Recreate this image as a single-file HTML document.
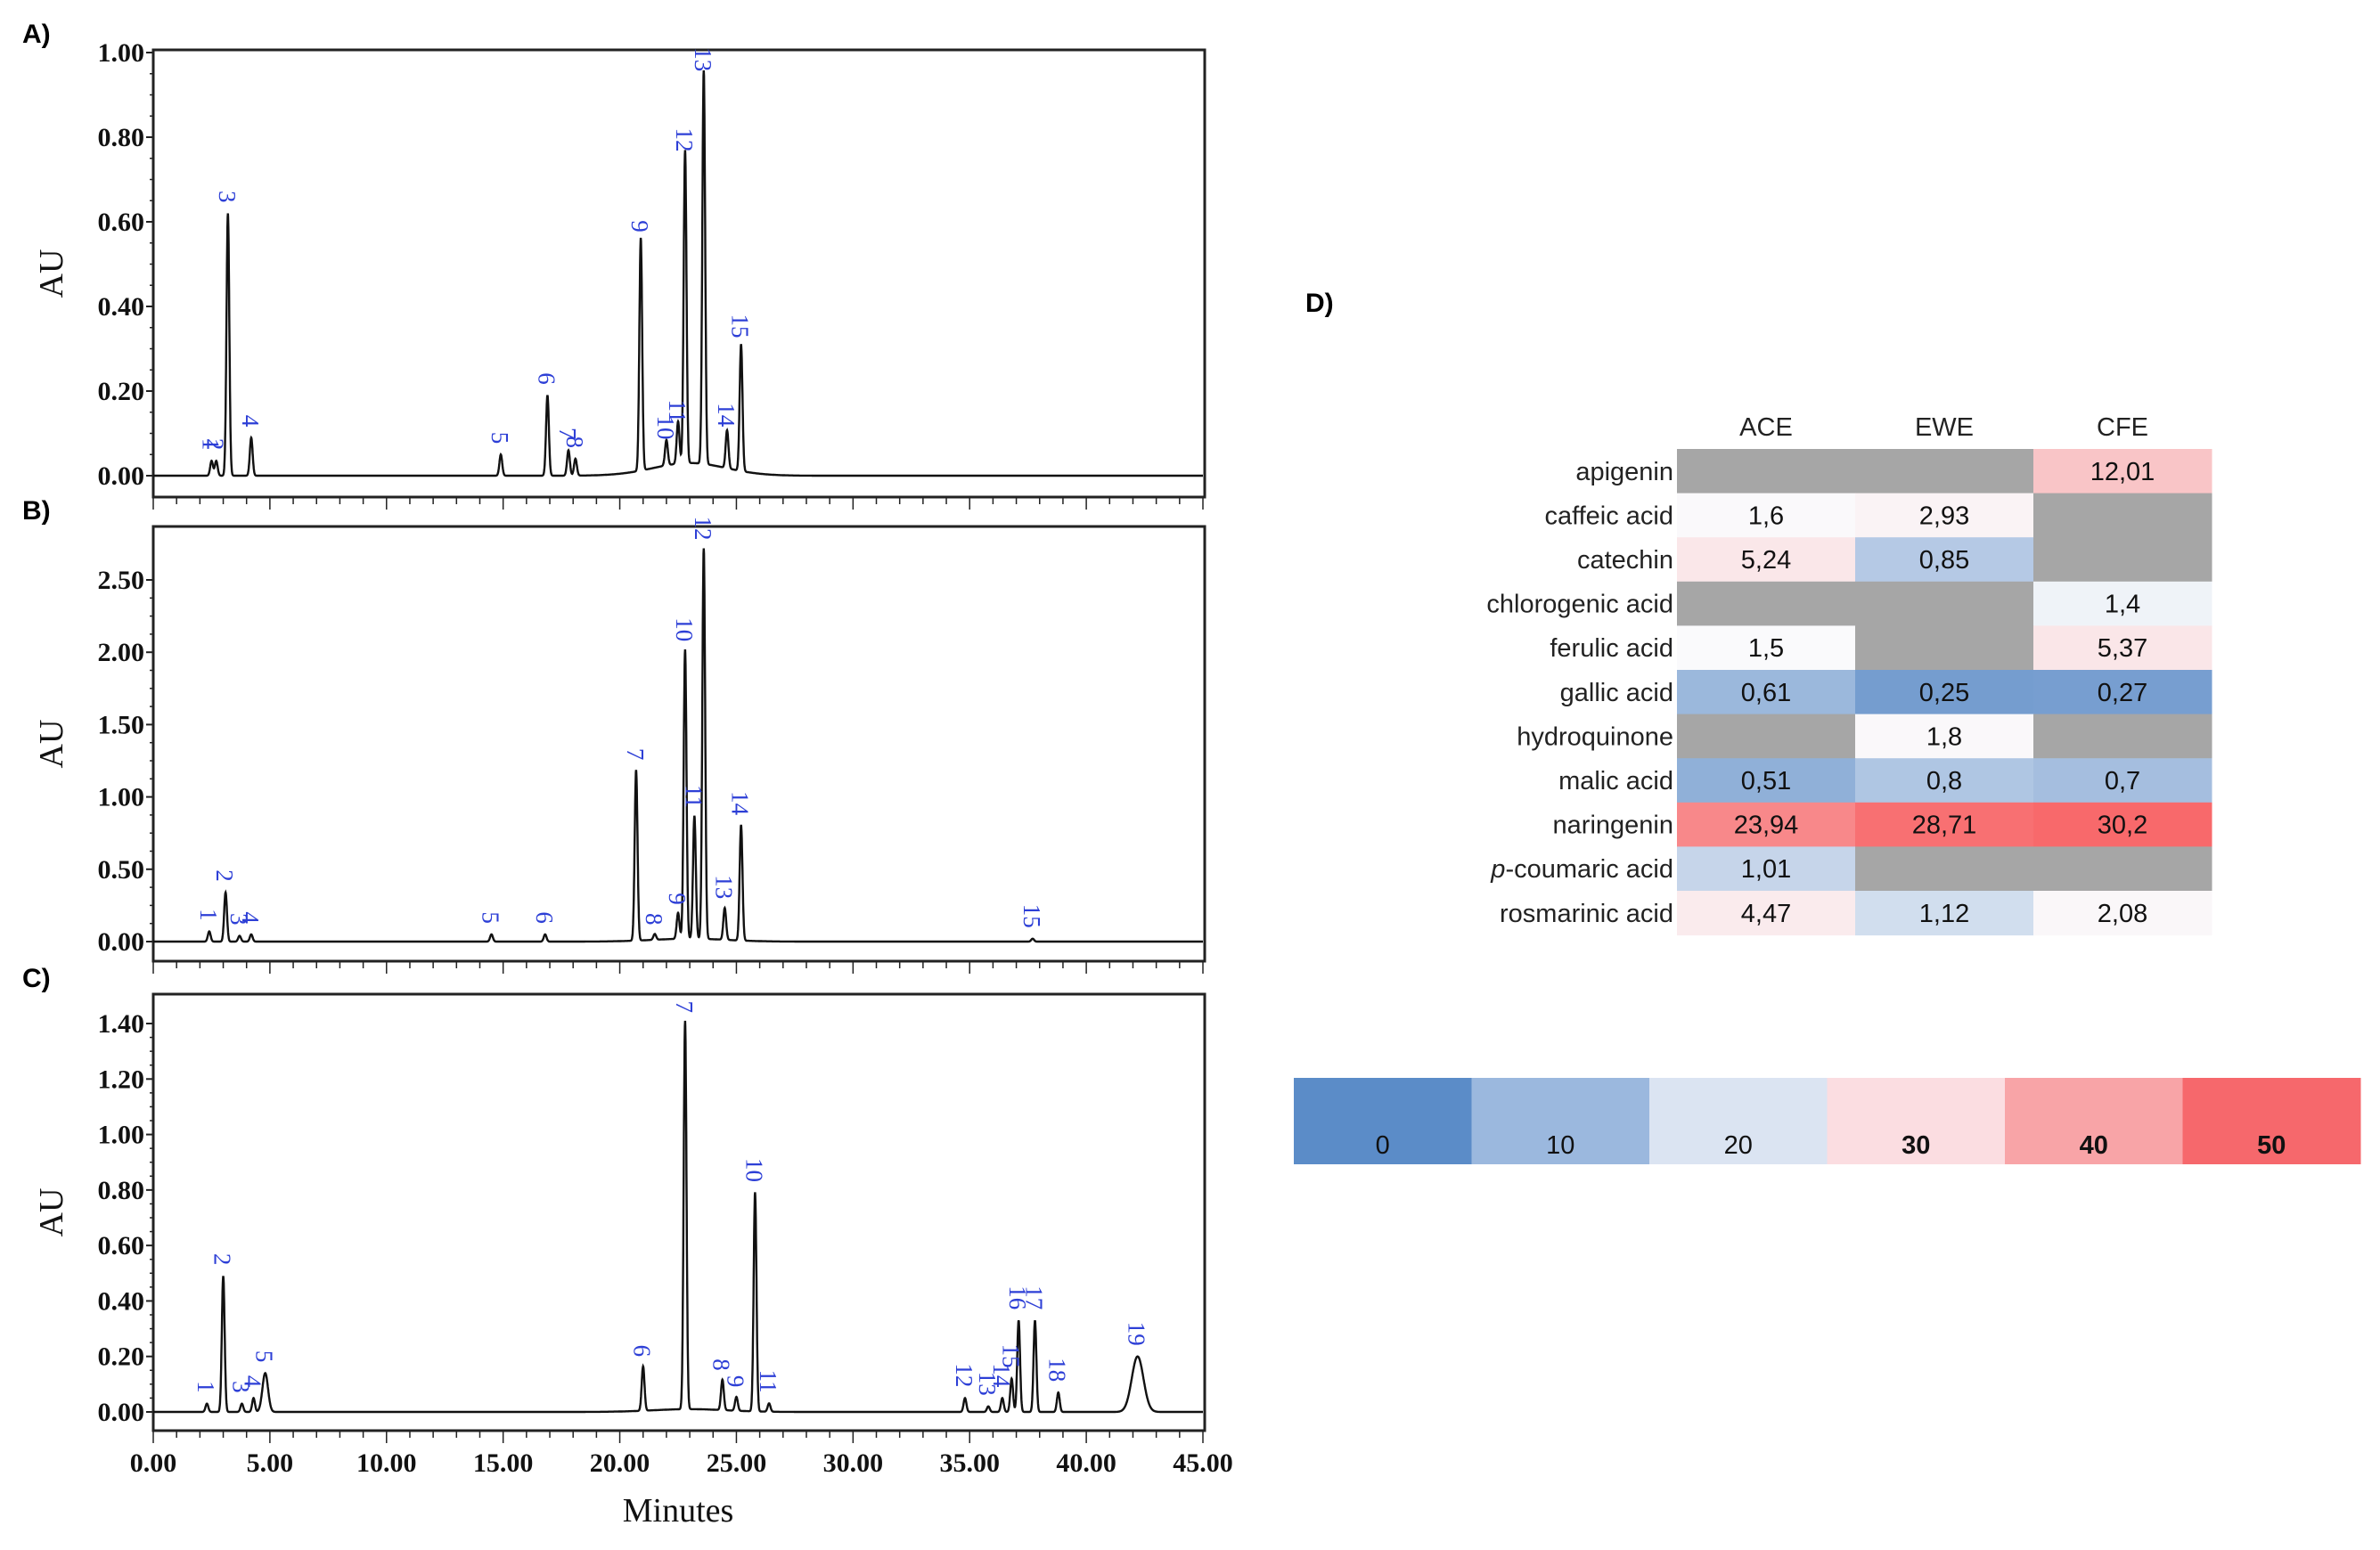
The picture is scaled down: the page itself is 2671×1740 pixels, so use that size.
<!DOCTYPE html>
<html><head><meta charset="utf-8">
<style>
body{margin:0;background:#fff;width:2671px;height:1740px;overflow:hidden;position:relative;font-family:"Liberation Sans",sans-serif}
svg{position:absolute;left:0;top:0}
</style></head>
<body>
<svg id="chart" width="2671" height="1740" xmlns="http://www.w3.org/2000/svg"></svg>
<script>
// ---- data ----
const peaksA_t=[2.5,2.7,3.2,4.2,14.9,16.9,17.8,18.1,20.9,22.0,22.5,22.8,23.6,24.6,25.2];
const peaksA_h=[0.035,0.035,0.62,0.09,0.05,0.19,0.06,0.04,0.55,0.06,0.1,0.74,0.93,0.09,0.3];
const peaksB_t=[2.4,3.1,3.7,4.2,14.5,16.8,20.7,21.5,22.5,22.8,23.2,23.6,24.5,25.2,37.7];
const peaksB_h=[0.07,0.34,0.04,0.05,0.05,0.05,1.18,0.04,0.18,2.0,0.85,2.7,0.22,0.8,0.02];
const peaksC_t=[2.3,3.0,3.8,4.3,4.8,21.0,22.8,24.4,25.0,25.8,26.4,34.8,35.8,36.4,36.8,37.1,37.8,38.8,42.2];
const peaksC_h=[0.03,0.49,0.03,0.05,0.14,0.16,1.4,0.11,0.05,0.79,0.03,0.05,0.02,0.05,0.12,0.33,0.33,0.07,0.2];
const yTicksA=["0.00","0.20","0.40","0.60","0.80","1.00"];
const yTicksB=["0.00","0.50","1.00","1.50","2.00","2.50"];
const yTicksC=["0.00","0.20","0.40","0.60","0.80","1.00","1.20","1.40"];
const xTicks=["0.00","5.00","10.00","15.00","20.00","25.00","30.00","35.00","40.00","45.00"];
const compounds=["apigenin","caffeic acid","catechin","chlorogenic acid","ferulic acid","gallic acid","hydroquinone","malic acid","naringenin","p-coumaric acid","rosmarinic acid"];
const extracts=["ACE","EWE","CFE"];
const valsACE=[null,"1,6","5,24",null,"1,5","0,61",null,"0,51","23,94","1,01","4,47"];
const valsEWE=[null,"2,93","0,85",null,null,"0,25","1,8","0,8","28,71",null,"1,12"];
const valsCFE=["12,01",null,null,"1,4","5,37","0,27",null,"0,7","30,2",null,"2,08"];
const scaleLabels=["0","10","20","30","40","50"];

const NS="http://www.w3.org/2000/svg";
const svg=document.getElementById('chart');
function mk(tag,attrs,parent){const e=document.createElementNS(NS,tag);for(const k in attrs)e.setAttribute(k,attrs[k]);(parent||svg).appendChild(e);return e;}

const X0=172,X45=1350,FR=1352;
function xs(t){return X0+(X45-X0)*t/45;}

function panel(name,letter,top,bottom,y0,yTop,topVal,ticks,step,pt,ph,sig,hump,showX){
  const g=mk('g',{});
  
  
  const ys=v=>y0-(y0-yTop)*v/topVal;
  const lt=mk('text',{x:25,y:top-8,'font-size':30,'font-weight':'bold','font-family':'Liberation Sans, sans-serif'},g);
  lt.textContent=letter+')';
  
  
  const fr=mk('rect',{x:X0,y:top,width:FR-X0,height:bottom-top,fill:'none',stroke:'#222','stroke-width':3},g);
  
  
  ticks.forEach((lab,i)=>{
    const v=i*step,y=ys(v);
    mk('line',{x1:X0-8,x2:X0,y1:y,y2:y,stroke:'#222','stroke-width':2},g);
    const t=mk('text',{x:X0-10,y:y+10,'text-anchor':'end','font-size':30,'font-weight':'bold','font-family':'Liberation Serif, serif',fill:'#111'},g);
    t.textContent=lab;
    
    
    for(let m=1;m<4&&i<ticks.length-1;m++){const ym=ys(v+step*m/4);mk('line',{x1:X0-4,x2:X0,y1:ym,y2:ym,stroke:'#222','stroke-width':1.5},g);}
  });
  const au=mk('text',{x:0,y:0,transform:`translate(70,${(top+bottom)/2}) rotate(-90)`,'text-anchor':'middle','font-size':38,'font-family':'Liberation Serif, serif',fill:'#111'},g);
  au.textContent='AU';
  
  
  for(let t=0;t<=45;t++){const x=xs(t);mk('line',{x1:x,x2:x,y1:bottom,y2:bottom+(t%5==0?14:8),stroke:'#222','stroke-width':1.5},g);}
  if(showX){xTicks.forEach((lab,i)=>{const t=mk('text',{x:xs(i*5),y:bottom+46,'text-anchor':'middle','font-size':30,'font-weight':'bold','font-family':'Liberation Serif, serif',fill:'#111'},g);t.textContent=lab;});
    const mn=mk('text',{x:xs(22.5),y:1708,'text-anchor':'middle','font-size':38,'font-family':'Liberation Serif, serif',fill:'#111'},g);mn.textContent='Minutes';}
  let d='';
  for(let t=0;t<=45;t+=0.01){
    let v=0;
    if(hump) v+=hump*Math.exp(-Math.pow((t-23)/2.2,2));
    for(let i=0;i<pt.length;i++){const s=(pt[i]>40?0.25:(i==4&&letter=='C'?0.12:sig));v+=ph[i]*Math.exp(-Math.pow(t-pt[i],2)/(2*s*s));}
    d+=(d?'L':'M')+xs(t).toFixed(1)+' '+ys(v).toFixed(1);
  }
  const p=mk('path',{d:d,fill:'none',stroke:'#111','stroke-width':2.4},g);
  
  
  pt.forEach((t,i)=>{
    const x=xs(t),y=ys(ph[i])-12;
    const l=mk('text',{x:0,y:0,transform:`translate(${x-10},${y}) rotate(90)`,'text-anchor':'end','font-size':27,'font-family':'Liberation Serif, serif',fill:'#2d3fd6'},g);
    l.textContent=String(i+1);
    
    
  });
}
panel('panel-a-chromatogram','A',56,558,534,59,1.0,yTicksA,0.2,peaksA_t,peaksA_h,0.06,0.03,false);
panel('panel-b-chromatogram','B',591,1079,1057,651,2.5,yTicksB,0.5,peaksB_t,peaksB_h,0.06,0.02,false);
panel('panel-c-chromatogram','C',1116,1606,1585,1149,1.4,yTicksC,0.2,peaksC_t,peaksC_h,0.06,0.01,true);

// ---- heatmap table ----
const TX=1882,TY=504,CW=200,RH=49.6;
const dl=mk('text',{x:1465,y:350,'font-size':30,'font-weight':'bold'});dl.textContent='D)';


function color(v){
  if(v==null) return '#a6a6a6';
  const n=parseFloat(v.replace(',','.'));
  const stops=[[0,[90,138,198]],[1.5,[250,250,252]],[30,[248,105,107]]];
  let a=stops[0],b=stops[1];if(n>1.5){a=stops[1];b=stops[2];}
  const f=Math.max(0,Math.min(1,(n-a[0])/(b[0]-a[0])));
  const c=a[1].map((x,i)=>Math.round(x+(b[1][i]-x)*f));
  return `rgb(${c})`;
}
extracts.forEach((e,j)=>{const t=mk('text',{x:TX+CW*j+CW/2,y:TY-15,'text-anchor':'middle','font-size':29,fill:'#222'});t.textContent=e;});
const cols=[valsACE,valsEWE,valsCFE];
compounds.forEach((c,i)=>{
  const y=TY+RH*i;
  const lab=mk('text',{x:TX-4,y:y+RH/2+10,'text-anchor':'end','font-size':29,fill:'#222'});
  if(c.startsWith('p-')){const s=mk('tspan',{'font-style':'italic'},lab);s.textContent='p';const s2=mk('tspan',{},lab);s2.textContent=c.slice(1);}else lab.textContent=c;
  
  
  cols.forEach((col,j)=>{
    const r=mk('rect',{x:TX+CW*j,y:y,width:CW+0.5,height:RH+0.5,fill:color(col[i])});
    
    
    if(col[i]!=null){const t=mk('text',{x:TX+CW*j+CW/2,y:y+RH/2+10,'text-anchor':'middle','font-size':29,fill:'#111'});t.textContent=col[i];}
  });
});
// ---- colour scale ----
const scaleCols=['#5b8cc8','#9bb8de','#dbe4f2','#fbdde1','#f8a4a7','#f6686c'];
const SX=1452,SE=2649,SW=(SE-SX)/6;
scaleLabels.forEach((s,i)=>{
  const r=mk('rect',{x:SX+SW*i,y:1210,width:SW+0.5,height:97,fill:scaleCols[i]});
  
  
  const t=mk('text',{x:SX+SW*i+SW/2,y:1295,'text-anchor':'middle','font-size':29,'font-weight':i>=3?'bold':'normal',fill:'#111'});
  t.textContent=s;
  
  
});
</script>
</body></html>
